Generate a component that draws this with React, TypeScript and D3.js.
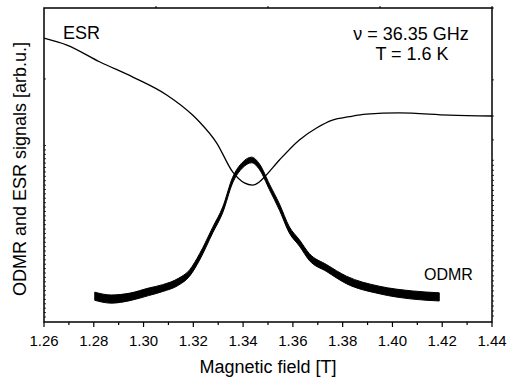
import React from 'react';
import * as d3 from 'd3';

// ESR signal (field in T, signal in arb. units)
const esrField = [1.26, 1.2692, 1.2825, 1.2957, 1.3093, 1.3197, 1.3225, 1.3294, 1.3358, 1.3405, 1.3438, 1.3465, 1.3486, 1.3546, 1.3626, 1.3695, 1.3759, 1.3827, 1.3895, 1.4027, 1.4228, 1.44];
const esrSignal = [90.4, 88.2, 82.8, 78.0, 72.3, 65.9, 63.7, 57.0, 47.8, 44.3, 43.6, 44.6, 46.2, 51.6, 58.0, 61.8, 64.3, 65.4, 66.2, 66.6, 65.9, 65.6];

// ODMR signal: centre of the noisy trace and its half-spread
const odmrField = [1.2804, 1.287, 1.2945, 1.302, 1.3077, 1.314, 1.3185, 1.3225, 1.3278, 1.3318, 1.3358, 1.3398, 1.3434, 1.3466, 1.3506, 1.3546, 1.3586, 1.3626, 1.3666, 1.3735, 1.3815, 1.3947, 1.408, 1.4188];
const odmrSignal = [8.2, 7.3, 8.0, 9.6, 10.8, 12.8, 15.6, 20.7, 29.3, 35.7, 45.2, 50.0, 51.6, 49.4, 43.0, 36.6, 29.3, 25.2, 20.7, 17.2, 13.4, 10.2, 8.6, 8.0];
const odmrSpread = [1.3, 1.3, 1.2, 1.2, 1.1, 1.1, 1.0, 1.0, 0.9, 0.9, 0.9, 0.9, 0.9, 0.9, 0.9, 1.0, 1.0, 1.0, 1.1, 1.1, 1.2, 1.2, 1.3, 1.3];

const xMajorTicks = [1.26, 1.28, 1.30, 1.32, 1.34, 1.36, 1.38, 1.40, 1.42, 1.44];
const xMinorTicks = [1.27, 1.29, 1.31, 1.33, 1.35, 1.37, 1.39, 1.41, 1.43];
const xTopTicks = [1.305, 1.35, 1.395, 1.44];
const yLeftTicks = [77.4, ...d3.range(1.6, 57, 1.4)];
const yRightTicks = [100, 77.1, 65.6, 58.0, ...d3.range(1.9, 52, 1.6)];

const W = 507;
const H = 381;
const font = "'Liberation Sans', Arial, sans-serif";

export default function App() {
  const x = d3.scaleLinear().domain([1.26, 1.44]).range([44, 492]);
  const y = d3.scaleLinear().domain([0, 100]).range([322, 8]);
  const [x0, x1] = x.range();
  const [y0, y1] = y.range();

  const esrLine = d3.line<number>()
    .x((_, i) => x(esrField[i]))
    .y(d => y(d))
    .curve(d3.curveMonotoneX);

  const odmrArea = d3.area<number>()
    .x((_, i) => x(odmrField[i]))
    .y0((d, i) => y(d - odmrSpread[i]))
    .y1((d, i) => y(d + odmrSpread[i]))
    .curve(d3.curveMonotoneX);

  return (
    <svg width={W} height={H} style={{position: 'absolute', left: 0, top: 0, background: '#fff'}} fontFamily={font}>
      {/* data */}
      <path d={odmrArea(odmrSignal) || ''} fill="#000" stroke="#000" strokeWidth={1} />
      <path d={esrLine(esrSignal) || ''} fill="none" stroke="#000" strokeWidth={1.3} />

      {/* frame */}
      <rect x={x0} y={y1} width={x1 - x0} height={y0 - y1} fill="none" stroke="#000" strokeWidth={1.5} />

      {/* bottom axis ticks */}
      {xMajorTicks.map(t => (
        <g key={'M' + t}>
          <line x1={x(t)} x2={x(t)} y1={y0} y2={y0 + 5} stroke="#000" strokeWidth={1.2} />
          <text x={x(t)} y={346} textAnchor="middle" fontSize={15}>{t.toFixed(2)}</text>
        </g>
      ))}
      {xMinorTicks.map(t => (
        <line key={'m' + t} x1={x(t)} x2={x(t)} y1={y0} y2={y0 + 3} stroke="#000" strokeWidth={1.2} />
      ))}
      {xTopTicks.map(t => (
        <line key={'t' + t} x1={x(t)} x2={x(t)} y1={y1} y2={y1 - 2} stroke="#000" strokeWidth={1} />
      ))}
      {yLeftTicks.map(t => (
        <line key={'l' + t} x1={x0} x2={x0 + 2} y1={y(t)} y2={y(t)} stroke="#000" strokeWidth={0.8} />
      ))}
      {yRightTicks.map(t => (
        <line key={'r' + t} x1={x1} x2={x1 + 2} y1={y(t)} y2={y(t)} stroke="#000" strokeWidth={0.8} />
      ))}

      {/* labels */}
      <text x={268} y={373} textAnchor="middle" fontSize={18}>Magnetic field [T]</text>
      <text transform={`translate(26,169) rotate(-90)`} textAnchor="middle" fontSize={18}>ODMR and ESR signals [arb.u.]</text>
      <text x={63} y={39} fontSize={18}>ESR</text>
      <text x={411} y={40} textAnchor="middle" fontSize={18}>ν = 36.35 GHz</text>
      <text x={412} y={60} textAnchor="middle" fontSize={18}>T = 1.6 K</text>
      <text x={424} y={280} fontSize={16}>ODMR</text>
    </svg>
  );
}
